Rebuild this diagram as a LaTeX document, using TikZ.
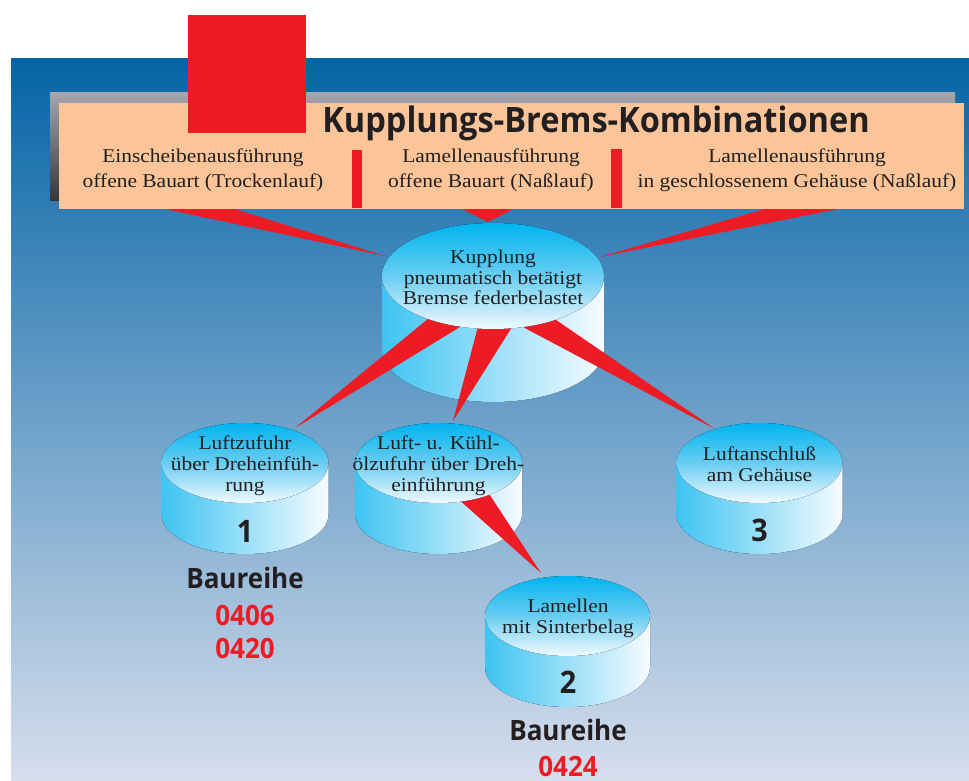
\documentclass[tikz,border=0pt]{standalone}
\usepackage{fontspec}
\setmainfont{Liberation Serif}[FakeStretch=1.1]
\newfontfamily\sansb{Open Sans}[FakeStretch=0.93]
\definecolor{bgtop}{RGB}{5,100,166}
\definecolor{bgmid}{RGB}{112,150,198}
\definecolor{bgbot}{RGB}{214,222,237}
\definecolor{peach}{RGB}{251,197,153}
\definecolor{wred}{RGB}{237,28,36}
\definecolor{ink}{RGB}{35,31,32}
\definecolor{cyantop}{RGB}{0,180,240}
\definecolor{ellmid}{RGB}{105,205,242}
\definecolor{ellbot}{RGB}{242,250,255}
\definecolor{sideleft}{RGB}{62,196,242}
\definecolor{sideright}{RGB}{246,251,255}
\definecolor{shtop}{RGB}{165,165,172}
\definecolor{shbot}{RGB}{55,55,58}
\newcommand\cylside[5]{%
  \fill[left color=sideleft, right color=sideright]
    (#1-#3,#2) -- (#1-#3,#2+#5)
    arc[start angle=180,end angle=360,x radius=#3pt,y radius=#4pt]
    -- (#1+#3,#2) -- cycle;}
\newcommand\cyltop[5]{%
  \coordinate (#1) at (#2,#3);
  \fill[top color=cyantop, bottom color=ellbot, middle color=ellmid]
    (#1) ellipse[x radius=#4pt, y radius=#5pt];}
\begin{document}
\begin{tikzpicture}[x=1pt,y=-1pt,
  ser/.style={font=\fontsize{19.5}{22}\selectfont, text=ink, anchor=base, inner sep=0pt},
  numb/.style={font=\sansb\bfseries\fontsize{31}{31}\selectfont, text=ink, anchor=base, inner sep=0pt},
  baur/.style={font=\sansb\bfseries\fontsize{28}{28}\selectfont, text=ink, anchor=base, inner sep=0pt},
  code/.style={font=\sansb\bfseries\fontsize{28}{28}\selectfont, text=wred, anchor=base, inner sep=0pt},
  wedge/.style={fill=wred}]
\useasboundingbox (0,0) rectangle (969,781);
% background
\fill[top color=bgtop, middle color=bgmid, bottom color=bgbot] (11,59) rectangle (969,781);
% wedges from the header box
\coordinate (w1a) at (76,190);  \coordinate (w1b) at (174,190); \coordinate (w1t) at (385,256);
\coordinate (w2a) at (424,190); \coordinate (w2b) at (550,190); \coordinate (w2t) at (488,222);
\coordinate (w3a) at (830,190); \coordinate (w3b) at (932,190); \coordinate (w3t) at (600,257);
\fill[wedge] (w1a) -- (w1b) -- (w1t) -- cycle;
\fill[wedge] (w2a) -- (w2b) -- (w2t) -- cycle;
\fill[wedge] (w3a) -- (w3b) -- (w3t) -- cycle;
% header box
\fill[top color=shtop, bottom color=shbot] (50,93) rectangle (955,200);
\fill[peach] (59,103) rectangle (964,209);
\fill[wred] (352,150) rectangle (362,208);
\fill[wred] (611,149) rectangle (622,208);
\node[font=\sansb\bfseries\fontsize{35}{35}\selectfont, text=ink, anchor=base, inner sep=0pt] (title) at (596,133) {Kupplungs-Brems-Kombinationen};
\node[ser] (h1a) at (203,163) {Einscheibenausführung};
\node[ser] (h1b) at (203,187) {offene Bauart (Trockenlauf)};
\node[ser] (h2a) at (491,163) {Lamellenausführung};
\node[ser] (h2b) at (491,187) {offene Bauart (Naßlauf)};
\node[ser] (h3a) at (797,163) {Lamellenausführung};
\node[ser] (h3b) at (797,187) {in geschlossenem Gehäuse (Naßlauf)};
\fill[wred] (188,15) rectangle (306,133);
% central cylinder
\cylside{493}{276}{111}{53}{73}
\coordinate (k1a) at (451,300); \coordinate (k1b) at (504,300); \coordinate (k1t) at (295,428);
\coordinate (k2a) at (485,300); \coordinate (k2b) at (529,300); \coordinate (k2t) at (453,421);
\coordinate (k3a) at (472,300); \coordinate (k3b) at (527,300); \coordinate (k3t) at (715,429);
\fill[wedge] (k1a) -- (k1b) -- (k1t) -- cycle;
\fill[wedge] (k2a) -- (k2b) -- (k2t) -- cycle;
\fill[wedge] (k3a) -- (k3b) -- (k3t) -- cycle;
\cyltop{kup}{493}{276}{111}{53}
\node[ser] (kt1) at (493,263) {Kupplung};
\node[ser] (kt2) at (493,284) {pneumatisch betätigt};
\node[ser] (kt3) at (493,304) {Bremse federbelastet};
% cylinder 1
\cylside{245}{463}{83.5}{40}{51}
\cyltop{cA}{245}{463}{83.5}{40}
\node[ser] (a1) at (245,449) {Luftzufuhr};
\node[ser] (a2) at (245,470.5) {über Dreheinfüh-};
\node[ser] (a3) at (245,491.5) {rung};
\node[numb] (n1) at (245,542) {1};
\node[baur] (b1) at (245,588) {Baureihe};
\node[code] (c1) at (245,625) {0406};
\node[code] (c2) at (245,658) {0420};
% cylinder 3
\cylside{759.5}{463}{83}{40}{51}
\cyltop{cC}{759.5}{463}{83}{40}
\node[ser] (d1) at (759.5,460) {Luftanschluß};
\node[ser] (d2) at (759.5,481) {am Gehäuse};
\node[numb] (n3) at (759.5,541) {3};
% cylinder 2 (upper)
\cylside{438.5}{463}{83.5}{40}{51}
\coordinate (m1a) at (437,480); \coordinate (m1b) at (480,480); \coordinate (m1t) at (541,573);
\fill[wedge] (m1a) -- (m1b) -- (m1t) -- cycle;
\cyltop{cB}{438.5}{463}{83.5}{40}
\node[ser] (e1) at (438.5,449) {Luft- u. Kühl-};
\node[ser] (e2) at (438.5,470.5) {ölzufuhr über Dreh-};
\node[ser] (e3) at (438.5,491.5) {einführung};
% cylinder 4
\cylside{567.5}{616}{82.5}{40}{51}
\cyltop{cD}{567.5}{616}{82.5}{40}
\node[ser] (f1) at (568,612) {Lamellen};
\node[ser] (f2) at (568,633) {mit Sinterbelag};
\node[numb] (n2) at (568,693) {2};
\node[baur] (b2) at (568,740.5) {Baureihe};
\node[code] (c3) at (568,776) {0424};
\end{tikzpicture}
\end{document}
